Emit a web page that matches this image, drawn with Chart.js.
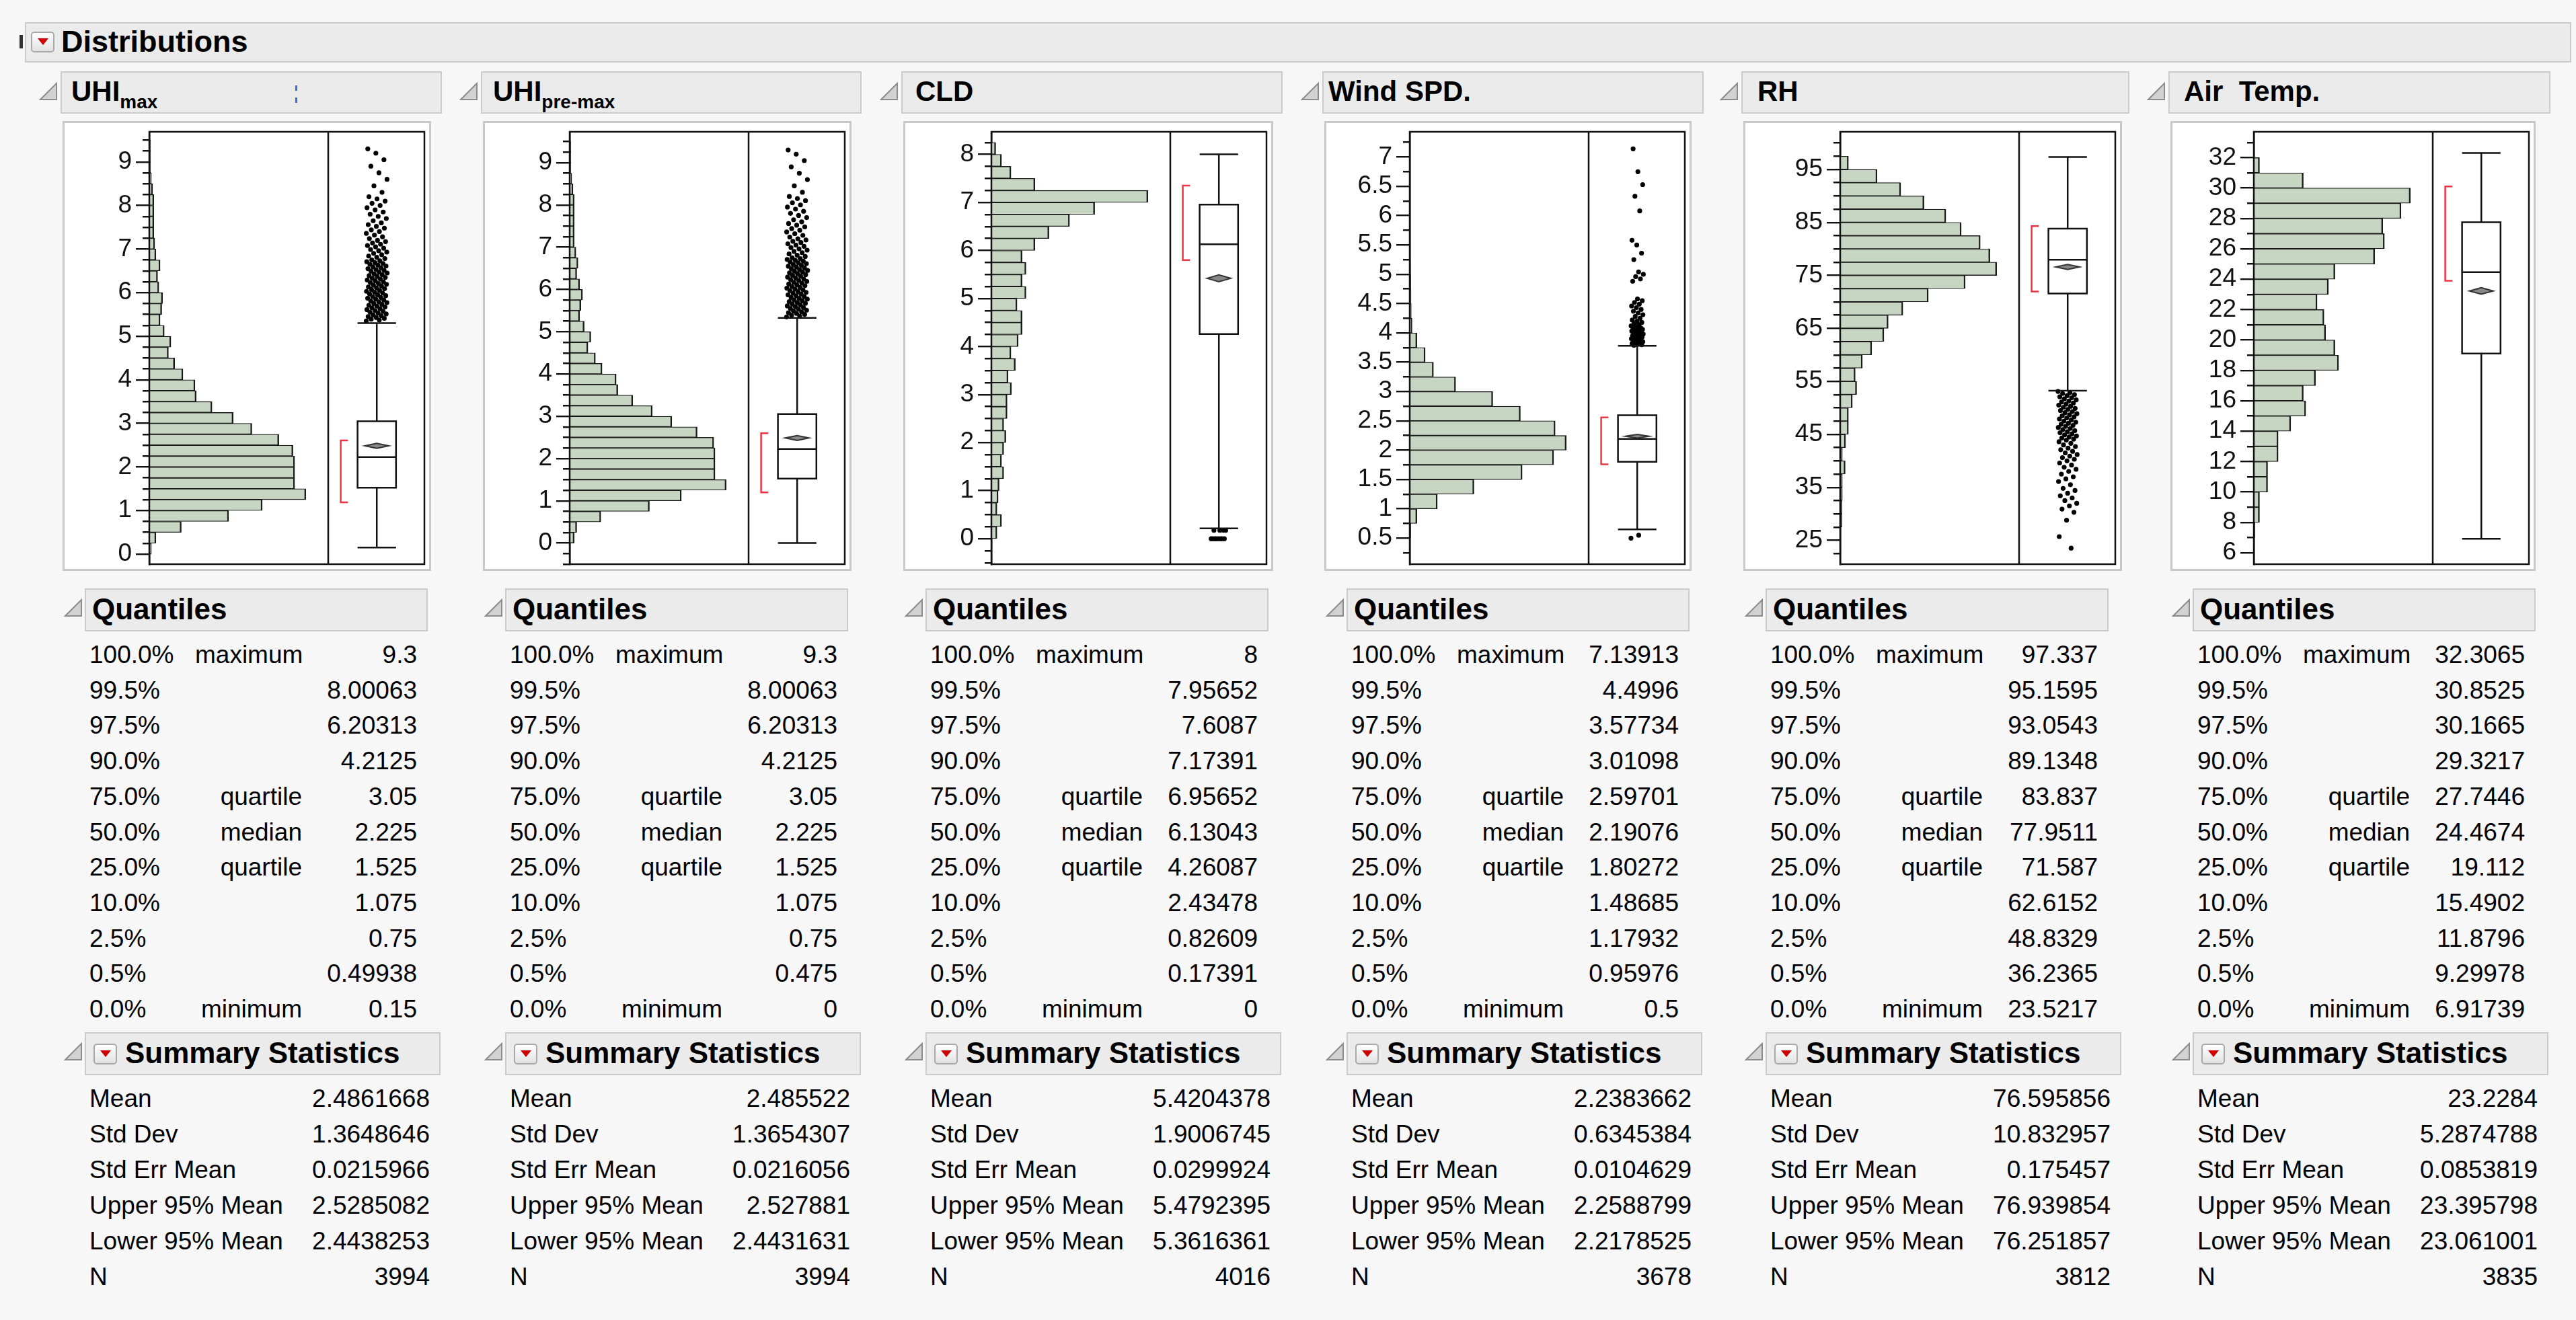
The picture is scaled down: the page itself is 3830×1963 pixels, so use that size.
<!DOCTYPE html>
<html>
<head>
<meta charset="utf-8">
<title>Distributions</title>
<script src="https://cdn.jsdelivr.net/npm/chart.js@4.4.1/dist/chart.umd.min.js"></script>
<style>
  html, body { margin: 0; padding: 0; }
  body { width: 3830px; height: 1963px; background: #f7f7f7; position: relative; overflow: hidden;
         font-family: "Liberation Sans", Arial, sans-serif; color: #000; }
  .bar { position: absolute; background: #ebebeb; border: 2px solid #cbcbcb; box-sizing: border-box; }
  .head { position: absolute; font-weight: bold; white-space: nowrap; }
  .sub { font-size: 28px; position: relative; top: 11px; }
  .row { position: absolute; height: 44px; line-height: 44px; font-size: 37px; white-space: nowrap; }
  .frame { position: absolute; background: #fff; border: 3px solid #c9c9c9; box-sizing: border-box; }
  .menu { position: absolute; width: 35px; height: 31px; box-sizing: border-box; border: 2px solid #a8a8a8;
          border-radius: 5px; background: linear-gradient(#ffffff, #e2e2e2); }
  .menu::after { content: ''; position: absolute; left: 8px; top: 8px; border-left: 8px solid transparent;
                 border-right: 8px solid transparent; border-top: 10px solid #d00000; }
  .tri { position: absolute; width: 28px; height: 28px; }
  canvas { position: absolute; }
</style>
</head>
<body>
<script>
const percentLabels = ['100.0%', '99.5%', '97.5%', '90.0%', '75.0%', '50.0%', '25.0%', '10.0%', '2.5%', '0.5%', '0.0%'];
const quantileNames = ['maximum', '', '', '', 'quartile', 'median', 'quartile', '', '', '', 'minimum'];
const summaryLabels = ['Mean', 'Std Dev', 'Std Err Mean', 'Upper 95% Mean', 'Lower 95% Mean', 'N'];

// UHI max  (bins of 0.25 starting at 0)
const uhiMaxCounts = [5, 16, 77, 191, 272, 377, 350, 350, 350, 346, 312, 247, 202, 151, 113, 110, 81, 61, 46, 52,
  36, 26, 30, 32, 23, 20, 26, 16, 13, 11, 11, 11, 11, 8, 5, 3, 3, 3];
const uhiMaxTicks = [0, 1, 2, 3, 4, 5, 6, 7, 8, 9];
const uhiMaxBox = [0.15, 1.525, 2.225, 3.05, 5.3];
const uhiMaxMean = [2.4438253, 2.4861668, 2.5285082];
const uhiMaxShortHalf = [1.19, 2.61];
const uhiMaxQuantiles = ['9.3', '8.00063', '6.20313', '4.2125', '3.05', '2.225', '1.525', '1.075', '0.75', '0.49938', '0.15'];
const uhiMaxSummary = ['2.4861668', '1.3648646', '0.0215966', '2.5285082', '2.4438253', '3994'];

// UHI pre-max (bins of 0.25 starting at 0)
const uhiPreCounts = [11, 17, 75, 192, 269, 377, 350, 350, 350, 347, 307, 246, 199, 152, 116, 112, 78, 62, 44, 51,
  35, 24, 27, 31, 24, 17, 20, 15, 11, 11, 11, 11, 11, 8, 5, 3, 3, 3];
const uhiPreTicks = [0, 1, 2, 3, 4, 5, 6, 7, 8, 9];
const uhiPreBox = [0, 1.525, 2.225, 3.05, 5.325];
const uhiPreMean = [2.4431631, 2.485522, 2.527881];
const uhiPreShortHalf = [1.2, 2.6];
const uhiPreQuantiles = ['9.3', '8.00063', '6.20313', '4.2125', '3.05', '2.225', '1.525', '1.075', '0.75', '0.475', '0'];
const uhiPreSummary = ['2.485522', '1.3654307', '0.0216056', '2.527881', '2.4431631', '3994'];

// outliers above the upper whisker, both UHI variables
const uhiOutliers = [5.35, 5.37, 5.39, 5.41, 5.43, 5.45, 5.47, 5.49, 5.51, 5.53, 5.55, 5.57, 5.59, 5.61, 5.63, 5.65,
  5.67, 5.69, 5.71, 5.73, 5.75, 5.77, 5.79, 5.81, 5.83, 5.85, 5.87, 5.89, 5.91, 5.93, 5.95, 5.97, 5.99, 6.01, 6.03,
  6.05, 6.07, 6.09, 6.11, 6.13, 6.15, 6.17, 6.19, 6.21, 6.23, 6.25, 6.27, 6.29, 6.31, 6.33, 6.35, 6.37, 6.39, 6.41,
  6.43, 6.45, 6.47, 6.49, 6.51, 6.53, 6.55, 6.57, 6.59, 6.61, 6.63, 6.65, 6.67, 6.69, 6.71, 6.73, 6.75, 6.78, 6.81,
  6.84, 6.87, 6.9, 6.93, 6.96, 6.99, 7.02, 7.05, 7.08, 7.11, 7.14, 7.17, 7.2, 7.24, 7.28, 7.32, 7.36, 7.4, 7.44,
  7.48, 7.52, 7.56, 7.6, 7.65, 7.7, 7.75, 7.8, 7.85, 7.9, 7.95, 8.0, 8.05, 8.1, 8.15, 8.2, 8.3, 8.45, 8.6, 8.75,
  8.9, 9.05, 9.2, 9.3];

// CLD (bins of 0.25 starting at 0)
const cldCounts = [23, 42, 23, 28, 32, 51, 42, 51, 60, 51, 65, 65, 83, 69, 99, 81, 111, 127, 127, 106, 143, 127,
  143, 127, 180, 238, 323, 427, 647, 180, 81, 42, 18];
const cldTicks = [0, 1, 2, 3, 4, 5, 6, 7, 8];
const cldBox = [0.217, 4.26087, 6.13043, 6.95652, 8];
const cldMean = [5.3616361, 5.4204378, 5.4792395];
const cldShortHalf = [5.8, 7.35];
const cldOutliers = [0, 0, 0, 0, 0, 0, 0, 0, 0.174, 0.174, 0.174, 0.174];
const cldQuantiles = ['8', '7.95652', '7.6087', '7.17391', '6.95652', '6.13043', '4.26087', '2.43478', '0.82609', '0.17391', '0'];
const cldSummary = ['5.4204378', '1.9006745', '0.0299924', '5.4792395', '5.3616361', '4016'];

// Wind speed (bins of 0.25 starting at 0.5)
const windCounts = [4, 28, 107, 249, 436, 558, 607, 564, 429, 322, 178, 92, 60, 28, 9, 6, 5, 4, 3, 2, 1, 0, 1, 1, 1, 0, 1];
const windTicks = [0.5, 1, 1.5, 2, 2.5, 3, 3.5, 4, 4.5, 5, 5.5, 6, 6.5, 7];
const windBox = [0.65, 1.80272, 2.19076, 2.59701, 3.78];
const windMean = [2.2178525, 2.2383662, 2.2588799];
const windShortHalf = [1.76, 2.56];
const windOutliers = [0.5, 0.55, 3.79, 3.8, 3.81, 3.82, 3.83, 3.84, 3.85, 3.86, 3.87, 3.88, 3.89, 3.9, 3.91, 3.92,
  3.93, 3.94, 3.95, 3.96, 3.97, 3.98, 3.99, 4.0, 4.01, 4.02, 4.03, 4.04, 4.05, 4.06, 4.07, 4.08, 4.09, 4.1, 4.12,
  4.14, 4.16, 4.18, 4.2, 4.22, 4.25, 4.28, 4.31, 4.34, 4.37, 4.4, 4.43, 4.46, 4.49, 4.52, 4.55, 4.58, 4.88, 4.92,
  4.96, 5.0, 5.04, 5.25, 5.36, 5.5, 5.58, 6.08, 6.33, 6.53, 6.75, 7.14];
const windQuantiles = ['7.13913', '4.4996', '3.57734', '3.01098', '2.59701', '2.19076', '1.80272', '1.48685', '1.17932', '0.95976', '0.5'];
const windSummary = ['2.2383662', '0.6345384', '0.0104629', '2.2588799', '2.2178525', '3678'];

// RH (bins of 2.5 starting at 22.5)
const rhCounts = [2, 2, 5, 5, 6, 6, 14, 6, 15, 23, 23, 34, 46, 42, 62, 88, 122, 134, 175, 246, 349, 437, 418, 391,
  338, 295, 234, 169, 103, 23];
const rhTicks = [25, 35, 45, 55, 65, 75, 85, 95];
const rhBox = [53.25, 71.587, 77.9511, 83.837, 97.337];
const rhMean = [76.251857, 76.595856, 76.939854];
const rhShortHalf = [71.95, 84.3];
const rhOutliers = [53.1, 52.9, 52.7, 52.5, 52.3, 52.1, 51.9, 51.7, 51.5, 51.3, 51.1, 50.9, 50.7, 50.5, 50.3, 50.1,
  49.9, 49.7, 49.5, 49.3, 49.1, 48.9, 48.7, 48.5, 48.3, 48.1, 47.9, 47.7, 47.5, 47.3, 47.1, 46.9, 46.7, 46.5, 46.3,
  46.1, 45.9, 45.7, 45.5, 45.3, 45.1, 44.9, 44.7, 44.5, 44.3, 44.1, 43.9, 43.6, 43.3, 43.0, 42.7, 42.4, 42.1, 41.8,
  41.5, 41.2, 40.9, 40.6, 40.3, 40.0, 39.6, 39.2, 38.8, 38.4, 38.0, 37.5, 37.0, 36.6, 36.1, 35.5, 34.8, 34.4, 33.9,
  33.4, 33.0, 32.5, 32.0, 31.5, 30.9, 30.3, 28.8, 25.7, 23.52];
const rhQuantiles = ['97.337', '95.1595', '93.0543', '89.1348', '83.837', '77.9511', '71.587', '62.6152', '48.8329', '36.2365', '23.5217'];
const rhSummary = ['76.595856', '10.832957', '0.175457', '76.939854', '76.251857', '3812'];

// Air temperature (bins of 1 starting at 6)
const airCounts = [1, 3, 14, 14, 34, 34, 60, 60, 91, 128, 122, 152, 209, 200, 177, 173, 156, 184, 200, 298, 322, 318,
  363, 386, 122, 14, 1];
const airTicks = [6, 8, 10, 12, 14, 16, 18, 20, 22, 24, 26, 28, 30, 32];
const airBox = [6.91739, 19.112, 24.4674, 27.7446, 32.3065];
const airMean = [23.061001, 23.2284, 23.395798];
const airShortHalf = [23.9, 30.1];
const airOutliers = [];
const airQuantiles = ['32.3065', '30.8525', '30.1665', '29.3217', '27.7446', '24.4674', '19.112', '15.4902', '11.8796', '9.29978', '6.91739'];
const airSummary = ['23.2284', '5.2874788', '0.0853819', '23.395798', '23.061001', '3835'];

// ---------- layout ----------
const FONT = '"Liberation Sans", Arial, sans-serif';
const INNER_W = 409, SEP = 266 / 409;
const PLOT_TOP = 196, PLOT_BOTTOM = 839, PAD = 30;

const panels = [
  { title: 'UHI<span class="sub">max</span>', left: 90, titleW: 567, titleX: 16, axisW: 129,
    counts: uhiMaxCounts, binStart: 0, binWidth: 0.25, ticks: uhiMaxTicks, minor: 0.25, yMin: -0.23, yMax: 9.69,
    box: uhiMaxBox, mean: uhiMaxMean, half: uhiMaxShortHalf, outliers: uhiOutliers, jit: 0.22,
    quant: uhiMaxQuantiles, summary: uhiMaxSummary },
  { title: 'UHI<span class="sub">pre-max</span>', left: 715, titleW: 566, titleX: 18, axisW: 129,
    counts: uhiPreCounts, binStart: 0, binWidth: 0.25, ticks: uhiPreTicks, minor: 0.25, yMin: -0.5, yMax: 9.73,
    box: uhiPreBox, mean: uhiPreMean, half: uhiPreShortHalf, outliers: uhiOutliers, jit: 0.22,
    quant: uhiPreQuantiles, summary: uhiPreSummary },
  { title: 'CLD', left: 1340, titleW: 567, titleX: 21, axisW: 131,
    counts: cldCounts, binStart: 0, binWidth: 0.25, ticks: cldTicks, minor: 0.25, yMin: -0.53, yMax: 8.47,
    box: cldBox, mean: cldMean, half: cldShortHalf, outliers: cldOutliers, jit: 0.16,
    quant: cldQuantiles, summary: cldSummary },
  { title: 'Wind SPD.', left: 1966, titleW: 567, titleX: 9, axisW: 127,
    counts: windCounts, binStart: 0.5, binWidth: 0.25, ticks: windTicks, minor: 0.25, yMin: 0.056, yMax: 7.43,
    box: windBox, mean: windMean, half: windShortHalf, outliers: windOutliers, jit: 0.13,
    quant: windQuantiles, summary: windSummary },
  { title: 'RH', left: 2589, titleW: 577, titleX: 24, axisW: 144,
    counts: rhCounts, binStart: 22.5, binWidth: 2.5, ticks: rhTicks, minor: 2.5, yMin: 20.5, yMax: 102.1,
    box: rhBox, mean: rhMean, half: rhShortHalf, outliers: rhOutliers, jit: 0.2,
    quant: rhQuantiles, summary: rhSummary },
  { title: 'Air&nbsp; Temp.', left: 3224, titleW: 568, titleX: 23, axisW: 124,
    counts: airCounts, binStart: 6, binWidth: 1, ticks: airTicks, minor: 1, yMin: 5.25, yMax: 33.7,
    box: airBox, mean: airMean, half: airShortHalf, outliers: airOutliers, jit: 0.2,
    quant: airQuantiles, summary: airSummary }
];

function el(cls, css, html) {
  const d = document.createElement('div');
  if (cls) d.className = cls;
  d.style.cssText = css;
  if (html !== undefined) d.innerHTML = html;
  document.body.appendChild(d);
  return d;
}
function tri(x, y) {
  el('tri', `left:${x}px;top:${y}px;`,
    '<svg width="28" height="28"><polygon points="26,2 26,26 2,26" fill="#d2d2d2" stroke="#8c8c8c" stroke-width="2"/></svg>');
}

// top "Distributions" header
el('', 'position:absolute;left:29px;top:52px;width:5px;height:20px;background:#333;');
el('bar', 'left:37px;top:33px;width:3786px;height:60px;');
el('menu', 'left:46px;top:47px;');
el('head', 'left:91px;top:36px;font-size:45px;line-height:52px;', 'Distributions');

// box plot, mean diamond, shortest half bracket, frame and separator
function boxPlugin(p) {
  return {
    id: 'jmpBox',
    afterDatasetsDraw(chart) {
      const ctx = chart.ctx, ca = chart.chartArea;
      const xb = chart.scales.xb, y = chart.scales.y;
      const Y = v => y.getPixelForValue(v);
      const [lo, q1, med, q3, hi] = p.box;
      const cx = xb.getPixelForValue(0.505);
      const hw = xb.getPixelForValue(0.705) - cx;
      ctx.save();
      ctx.strokeStyle = '#111';
      ctx.lineWidth = 2.5;
      ctx.beginPath();
      ctx.rect(cx - hw, Y(q3), 2 * hw, Y(q1) - Y(q3));
      ctx.moveTo(cx - hw, Y(med)); ctx.lineTo(cx + hw, Y(med));
      ctx.moveTo(cx, Y(q3)); ctx.lineTo(cx, Y(hi));
      ctx.moveTo(cx, Y(q1)); ctx.lineTo(cx, Y(lo));
      ctx.moveTo(cx - hw, Y(hi)); ctx.lineTo(cx + hw, Y(hi));
      ctx.moveTo(cx - hw, Y(lo)); ctx.lineTo(cx + hw, Y(lo));
      ctx.stroke();
      // mean diamond (vertical extent = 95% CI of the mean)
      const [ml, m, mu] = p.mean;
      const dw = hw * 0.62;
      ctx.lineWidth = 2;
      ctx.strokeStyle = '#333';
      ctx.fillStyle = '#888';
      ctx.beginPath();
      ctx.moveTo(cx - dw, Y(m));
      ctx.lineTo(cx, Y(mu) - 1);
      ctx.lineTo(cx + dw, Y(m));
      ctx.lineTo(cx, Y(ml) + 1);
      ctx.closePath();
      ctx.fill();
      ctx.stroke();
      // shortest half bracket
      const bx = xb.getPixelForValue(0.13), bt = xb.getPixelForValue(0.205);
      ctx.strokeStyle = '#ee3344';
      ctx.lineWidth = 2.5;
      ctx.beginPath();
      ctx.moveTo(bt, Y(p.half[1])); ctx.lineTo(bx, Y(p.half[1]));
      ctx.lineTo(bx, Y(p.half[0])); ctx.lineTo(bt, Y(p.half[0]));
      ctx.stroke();
      // frame + separator
      ctx.strokeStyle = '#111';
      ctx.lineWidth = 2.5;
      ctx.strokeRect(ca.left, ca.top, ca.width, ca.height);
      const sx = xb.getPixelForValue(0);
      ctx.beginPath(); ctx.moveTo(sx, ca.top); ctx.lineTo(sx, ca.bottom); ctx.stroke();
      ctx.restore();
    }
  };
}

panels.forEach(p => {
  const L = p.left;
  // variable title
  tri(L - 32, 122);
  el('bar', `left:${L}px;top:106px;width:${p.titleW}px;height:63px;`);
  el('head', `left:${L + p.titleX}px;top:112px;font-size:42px;line-height:48px;`, p.title);

  // plot frame + chart
  const frameW = p.axisW + INNER_W + 10;
  el('frame', `left:${L + 3}px;top:180px;width:${frameW}px;height:669px;`);
  const cv = document.createElement('canvas');
  const cw = p.axisW + INNER_W + 4, ch = PLOT_BOTTOM - PLOT_TOP + 2 * PAD;
  cv.width = cw; cv.height = ch;
  cv.style.cssText = `left:${L + 3}px;top:${PLOT_TOP - PAD}px;width:${cw}px;height:${ch}px;`;
  document.body.appendChild(cv);

  const histMax = Math.max(...p.counts) / (0.875 * SEP);
  const binPx = p.binWidth / (p.yMax - p.yMin) * (PLOT_BOTTOM - PLOT_TOP);
  const jitter = i => (((i * 0.6180339) % 1) - 0.5) * p.jit;
  const isMajor = v => p.ticks.some(t => Math.abs(t - v) < 1e-6);

  new Chart(cv, {
    type: 'bar',
    data: {
      datasets: [
        {
          type: 'bar', xAxisID: 'x', yAxisID: 'y',
          data: p.counts.map((c, i) => ({ x: c, y: p.binStart + p.binWidth * (i + 0.5) })),
          backgroundColor: '#c6d6c2', borderColor: '#1a1a1a',
          borderWidth: { top: 1.3, bottom: 1.3, right: 2.4, left: 0 }, borderSkipped: false,
          barThickness: binPx, barPercentage: 1, categoryPercentage: 1, grouped: true
        },
        {
          type: 'scatter', xAxisID: 'xb', yAxisID: 'y',
          data: p.outliers.map((v, i) => ({ x: 0.505 + jitter(i), y: v })),
          pointRadius: 3.6, pointBackgroundColor: '#000', pointBorderWidth: 0, showLine: false
        }
      ]
    },
    options: {
      indexAxis: 'y',
      responsive: false, animation: false, devicePixelRatio: 1,
      layout: { padding: { top: PAD, bottom: PAD, left: 0, right: 4 } },
      plugins: { legend: { display: false }, tooltip: { enabled: false } },
      scales: {
        x: { type: 'linear', display: false, min: 0, max: histMax, offset: false },
        xb: { type: 'linear', axis: 'x', display: false, min: -SEP / (1 - SEP), max: 1, offset: false },
        y: {
          type: 'linear', position: 'left', min: p.yMin, max: p.yMax, bounds: 'data', offset: false,
          afterFit(s) { s.width = p.axisW; },
          afterBuildTicks(s) {
            const out = [];
            const k0 = Math.ceil(p.yMin / p.minor - 1e-9), k1 = Math.floor(p.yMax / p.minor + 1e-9);
            for (let k = k0; k <= k1; k++) out.push({ value: +(k * p.minor).toFixed(6) });
            s.ticks = out;
          },
          ticks: {
            autoSkip: false, padding: 6, color: '#111', font: { family: FONT, size: 37 },
            callback: v => (isMajor(v) ? String(v) : '')
          },
          grid: {
            offset: false, drawOnChartArea: false, drawTicks: true, tickLength: 20,
            color: '#111', lineWidth: 2.4,
            tickBorderDash: c => (c.tick && isMajor(c.tick.value) ? [] : [0, 10, 100])
          },
          border: { display: true, color: '#111', width: 2.5 }
        }
      }
    },
    plugins: [boxPlugin(p)]
  });

  // Quantiles table
  tri(L + 5, 890);
  el('bar', `left:${L + 36}px;top:875px;width:510px;height:64px;`);
  el('head', `left:${L + 47}px;top:881px;font-size:44px;line-height:50px;`, 'Quantiles');
  percentLabels.forEach((lab, i) => {
    const t = Math.round(974 + 52.7 * i - 22);
    el('row', `left:${L + 43}px;top:${t}px;`, lab);
    if (quantileNames[i]) el('row', `left:${L + 200}px;top:${t}px;width:159px;text-align:right;`, quantileNames[i]);
    el('row', `left:${L + 370}px;top:${t}px;width:160px;text-align:right;`, p.quant[i]);
  });

  // Summary Statistics table
  tri(L + 5, 1550);
  el('bar', `left:${L + 36}px;top:1535px;width:529px;height:64px;`);
  el('menu', `left:${L + 49}px;top:1552px;`);
  el('head', `left:${L + 96}px;top:1541px;font-size:44px;line-height:50px;`, 'Summary Statistics');
  summaryLabels.forEach((lab, i) => {
    const t = Math.round(1634 + 53 * i - 22);
    el('row', `left:${L + 43}px;top:${t}px;`, lab);
    el('row', `left:${L + 340}px;top:${t}px;width:209px;text-align:right;`, p.summary[i]);
  });
});

// small blue marks in the first title bar
el('', 'position:absolute;left:439px;top:127px;width:3px;height:8px;background:#3b6fd0;');
el('', 'position:absolute;left:439px;top:145px;width:3px;height:8px;background:#3b6fd0;');
</script>
</body>
</html>
